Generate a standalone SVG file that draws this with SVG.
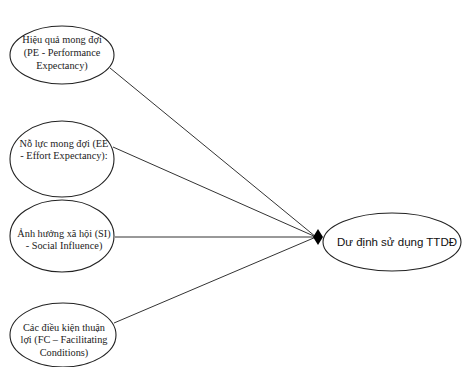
<svg xmlns="http://www.w3.org/2000/svg" width="463" height="367" viewBox="0 0 463 367">
<style>
.node ellipse{fill:#fff;stroke:#222;stroke-width:1.1}
.lbl{font-family:"Liberation Serif","Times New Roman",serif;font-size:10.3px;fill:#222;text-anchor:middle}
.tgt{font-family:"Liberation Sans",Arial,sans-serif;font-size:11.5px;fill:#111;text-anchor:middle}
.edge{stroke:#333;stroke-width:1;fill:none}
</style>
<rect width="463" height="367" fill="#fff"/>
<g id="connectors">
<line class="edge" x1="110" y1="68" x2="316" y2="237"/>
<line class="edge" x1="113" y1="147" x2="316" y2="237"/>
<line class="edge" x1="115" y1="237" x2="316" y2="237"/>
<line class="edge" x1="114" y1="323" x2="316" y2="237"/>
<polygon points="313,237 318,229 323,237 318,245" fill="#000"/>
</g>
<g id="pe" class="node">
<ellipse cx="62" cy="55" rx="52" ry="29"/>
<text class="lbl" x="62" y="43">Hiệu quả mong đợi</text>
<text class="lbl" x="62" y="56">(PE - Performance</text>
<text class="lbl" x="62" y="69">Expectancy)</text>
</g>
<g id="ee" class="node">
<ellipse cx="62" cy="159" rx="52" ry="38"/>
<text class="lbl" x="64" y="147">Nỗ lực mong đợi (EE</text>
<text class="lbl" x="64" y="159">- Effort Expectancy):</text>
</g>
<g id="si" class="node">
<ellipse cx="62" cy="236" rx="52" ry="36"/>
<text class="lbl" x="64" y="237">Ảnh hưởng xã hội (SI)</text>
<text class="lbl" x="64" y="249">- Social Influence)</text>
</g>
<g id="fc" class="node">
<ellipse cx="63" cy="335" rx="53" ry="32"/>
<text class="lbl" x="64" y="331">Các điều kiện thuận</text>
<text class="lbl" x="64" y="343">lợi (FC – Facilitating</text>
<text class="lbl" x="64" y="356">Conditions)</text>
</g>
<g id="target" class="node">
<ellipse cx="392" cy="242" rx="69" ry="29"/>
<text class="tgt" x="397" y="246">Dư định sử dụng TTDĐ</text>
</g>
</svg>
